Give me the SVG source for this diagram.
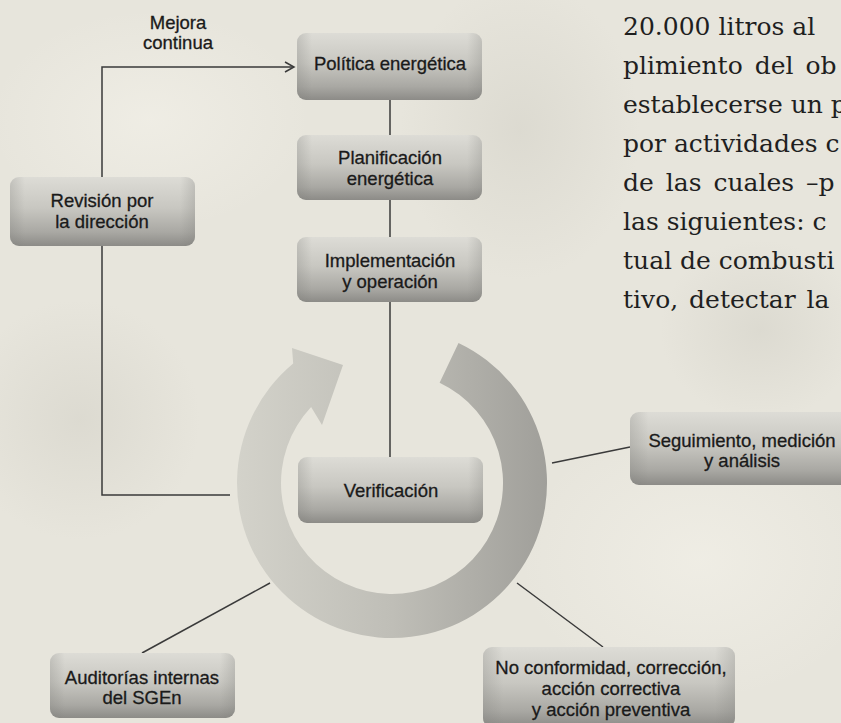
<svg xmlns="http://www.w3.org/2000/svg" width="841" height="723" viewBox="0 0 841 723">
  <defs>
    <linearGradient id="boxg" x1="0" y1="0" x2="0" y2="1">
      <stop offset="0" stop-color="#dddcd6"/>
      <stop offset="0.45" stop-color="#c8c7c1"/>
      <stop offset="0.8" stop-color="#a9a8a3"/>
      <stop offset="1" stop-color="#8c8b87"/>
    </linearGradient>
    <linearGradient id="boxedge" x1="0" y1="0" x2="1" y2="0">
      <stop offset="0" stop-color="#7a7a76" stop-opacity="0.25"/>
      <stop offset="0.08" stop-color="#7a7a76" stop-opacity="0"/>
      <stop offset="0.92" stop-color="#7a7a76" stop-opacity="0"/>
      <stop offset="1" stop-color="#7a7a76" stop-opacity="0.25"/>
    </linearGradient>
    <linearGradient id="ringg" gradientUnits="userSpaceOnUse" x1="237" y1="0" x2="548" y2="0">
      <stop offset="0" stop-color="#d3d2ca"/>
      <stop offset="0.5" stop-color="#bfbeb7"/>
      <stop offset="1" stop-color="#a09f9a"/>
    </linearGradient>
    <radialGradient id="blotL" cx="0.5" cy="0.5" r="0.5">
      <stop offset="0" stop-color="#f4f2ea" stop-opacity="0.6"/>
      <stop offset="1" stop-color="#f4f2ea" stop-opacity="0"/>
    </radialGradient>
    <radialGradient id="blotD" cx="0.5" cy="0.5" r="0.5">
      <stop offset="0" stop-color="#cfcdc3" stop-opacity="0.45"/>
      <stop offset="1" stop-color="#cfcdc3" stop-opacity="0"/>
    </radialGradient>
    <marker id="chev" viewBox="0 0 12 12" refX="10" refY="6" markerWidth="12" markerHeight="12" markerUnits="userSpaceOnUse" orient="auto">
      <path d="M1,1 L10,6 L1,11" fill="none" stroke="#3a3a3a" stroke-width="1.5"/>
    </marker>
    <style>
      .box { fill: url(#boxg); }
      .edge { fill: url(#boxedge); }
      .lbl { font-family: "Liberation Sans", Arial, sans-serif; font-size: 18.5px; fill: #1a1a1a; stroke: #1a1a1a; stroke-width: 0.3; text-anchor: middle; }
      .body { font-family: "DejaVu Serif", serif; font-size: 25px; fill: #1f1f1f; }
      .conn { fill: none; stroke: #3a3a3a; stroke-width: 1.5; }
    </style>
  </defs>

  <!-- background -->
  <rect x="0" y="0" width="841" height="723" fill="#e7e5dc"/>
  <ellipse cx="150" cy="120" rx="160" ry="110" fill="url(#blotL)"/>
  <ellipse cx="700" cy="560" rx="180" ry="140" fill="url(#blotL)"/>
  <ellipse cx="520" cy="130" rx="120" ry="150" fill="url(#blotD)"/>
  <ellipse cx="80" cy="420" rx="120" ry="120" fill="url(#blotD)"/>
  <ellipse cx="760" cy="330" rx="100" ry="90" fill="url(#blotD)"/>

  <!-- body text on the right -->
  <g id="bodytext">
    <text class="body" x="623" y="35">20.000 litros al</text>
    <text class="body" x="623" y="74" word-spacing="4">plimiento del ob</text>
    <text class="body" x="623" y="113">establecerse un p</text>
    <text class="body" x="623" y="152">por actividades c</text>
    <text class="body" x="623" y="191" word-spacing="4">de las cuales –p</text>
    <text class="body" x="623" y="230">las siguientes: c</text>
    <text class="body" x="623" y="269">tual de combusti</text>
    <text class="body" x="623" y="308" word-spacing="3">tivo, detectar la</text>
  </g>

  <!-- cycle ring arrow -->
  <g id="cycle">
    <path d="M458.5,343 A155,155 0 1 1 293.2,363.6 L292,348 L343,365 L322,425 L311.1,407 A111,111 0 1 0 439.6,382.7 Z" fill="url(#ringg)"/>
  </g>

  <!-- connectors -->
  <g id="connectors">
    <path class="conn" d="M102,177 V67 H294" marker-end="url(#chev)"/>
    <path class="conn" d="M390,100 V135"/>
    <path class="conn" d="M390,200 V237"/>
    <path class="conn" d="M390,302 V457"/>
    <path class="conn" d="M102,246 V495 H230"/>
    <path class="conn" d="M552,463 L630,447"/>
    <path class="conn" d="M142,653 L270,583"/>
    <path class="conn" d="M517,583 L603,647"/>
  </g>

  <g id="label-mejora">
    <text class="lbl" x="178" y="29">Mejora</text>
    <text class="lbl" x="178" y="49">continua</text>
  </g>

  <g id="politica">
    <rect class="box" x="297" y="33" width="185" height="67" rx="9"/>
    <rect class="edge" x="297" y="33" width="185" height="67" rx="9"/>
    <text class="lbl" x="390" y="70">Política energética</text>
  </g>

  <g id="planificacion">
    <rect class="box" x="297" y="135" width="185" height="65" rx="9"/>
    <rect class="edge" x="297" y="135" width="185" height="65" rx="9"/>
    <text class="lbl" x="390" y="164">Planificación</text>
    <text class="lbl" x="390" y="185">energética</text>
  </g>

  <g id="implementacion">
    <rect class="box" x="297" y="237" width="185" height="65" rx="9"/>
    <rect class="edge" x="297" y="237" width="185" height="65" rx="9"/>
    <text class="lbl" x="390" y="267">Implementación</text>
    <text class="lbl" x="390" y="288">y operación</text>
  </g>

  <g id="verificacion">
    <rect class="box" x="298" y="457" width="185" height="66" rx="9"/>
    <rect class="edge" x="298" y="457" width="185" height="66" rx="9"/>
    <text class="lbl" x="391" y="497">Verificación</text>
  </g>

  <g id="revision">
    <rect class="box" x="10" y="177" width="185" height="69" rx="9"/>
    <rect class="edge" x="10" y="177" width="185" height="69" rx="9"/>
    <text class="lbl" x="102" y="207">Revisión por</text>
    <text class="lbl" x="102" y="228">la dirección</text>
  </g>

  <g id="seguimiento">
    <rect class="box" x="630" y="412" width="230" height="73" rx="9"/>
    <rect class="edge" x="630" y="412" width="230" height="73" rx="9"/>
    <text class="lbl" x="742" y="447">Seguimiento, medición</text>
    <text class="lbl" x="742" y="467">y análisis</text>
  </g>

  <g id="auditorias">
    <rect class="box" x="50" y="653" width="185" height="65" rx="9"/>
    <rect class="edge" x="50" y="653" width="185" height="65" rx="9"/>
    <text class="lbl" x="142" y="684">Auditorías internas</text>
    <text class="lbl" x="142" y="704">del SGEn</text>
  </g>

  <g id="noconformidad">
    <rect class="box" x="483" y="647" width="252" height="80" rx="9"/>
    <rect class="edge" x="483" y="647" width="252" height="80" rx="9"/>
    <text class="lbl" x="611" y="674">No conformidad, corrección,</text>
    <text class="lbl" x="611" y="695">acción correctiva</text>
    <text class="lbl" x="611" y="716">y acción preventiva</text>
  </g>
</svg>
